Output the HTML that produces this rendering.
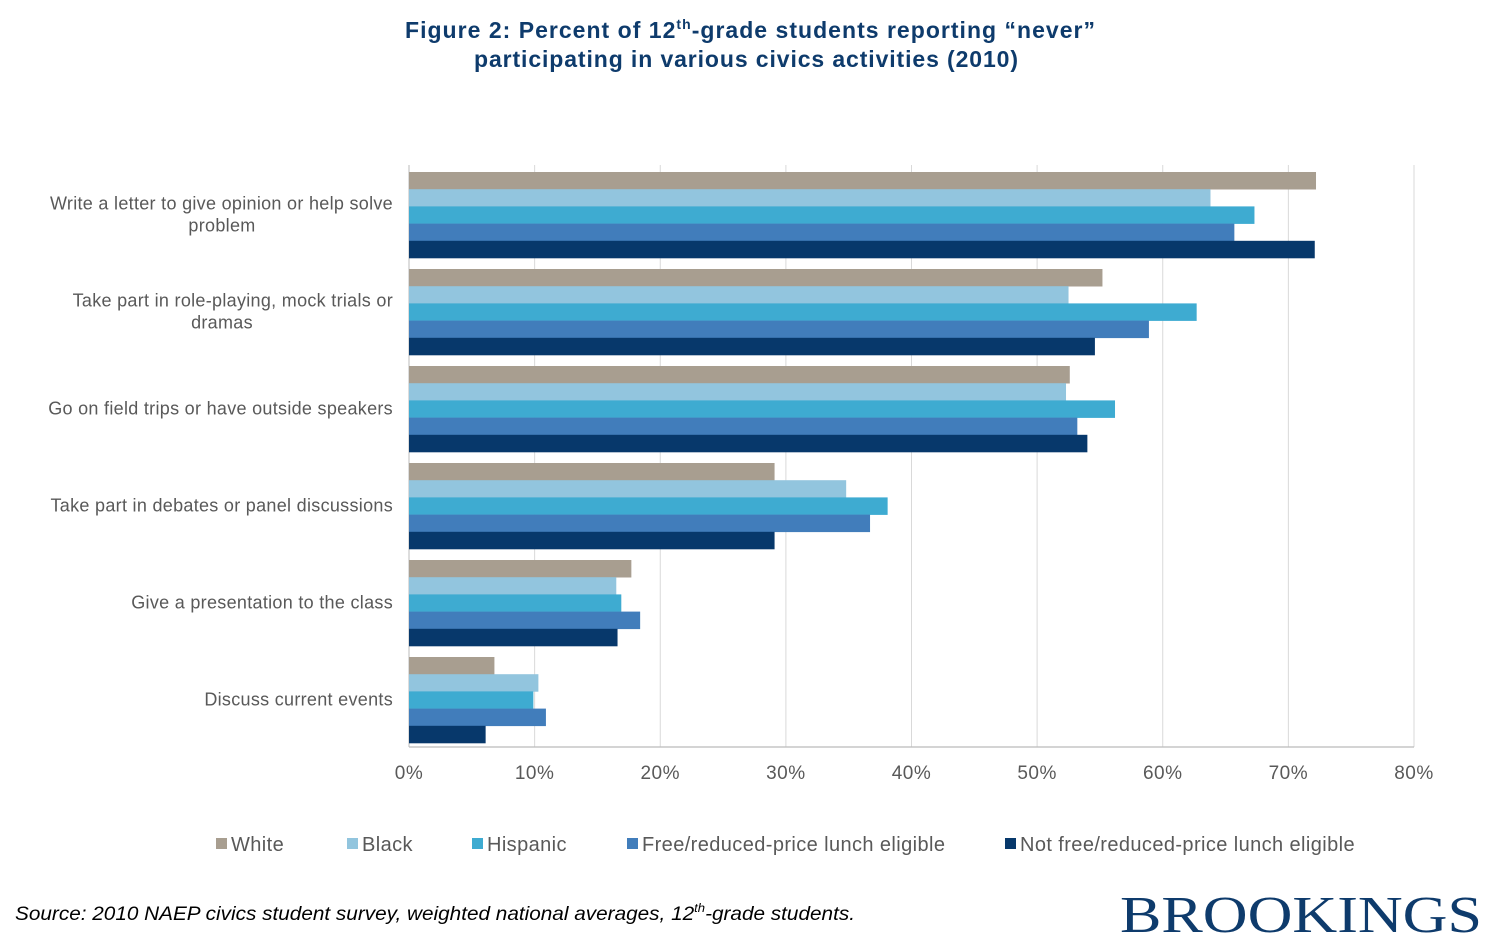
<!DOCTYPE html>
<html><head><meta charset="utf-8"><style>
body{margin:0;background:#fff;width:1500px;height:950px;overflow:hidden}
svg{display:block}
text{font-family:"Liberation Sans",Arial,sans-serif}
</style></head><body>
<svg id="chart" width="1500" height="950">
<text x="405" y="38" font-size="23" font-weight="bold" fill="#0e3b6c" textLength="690" lengthAdjust="spacing">Figure 2: Percent of 12<tspan font-size="14" dy="-9">th</tspan><tspan dy="9">-grade students reporting “never”</tspan></text>
<text x="474" y="67" font-size="23" font-weight="bold" fill="#0e3b6c" textLength="544" lengthAdjust="spacing">participating in various civics activities (2010)</text>
<g id="grid"></g><g id="bars"></g><g id="labels"></g><g id="legend"></g>
<text x="15" y="920" font-size="19" font-style="italic" fill="#000" textLength="840" lengthAdjust="spacingAndGlyphs">Source: 2010 NAEP civics student survey, weighted national averages, 12<tspan font-size="12" dy="-8">th</tspan><tspan dy="8">-grade students.</tspan></text>
<text x="1120" y="932" font-size="52" fill="#0e3b6c" style="font-family:'Liberation Serif',serif" textLength="362" lengthAdjust="spacingAndGlyphs">BROOKINGS</text>
</svg>
<script>
const categories=[["Write a letter to give opinion or help solve","problem"],["Take part in role-playing, mock trials or","dramas"],["Go on field trips or have outside speakers"],["Take part in debates or panel discussions"],["Give a presentation to the class"],["Discuss current events"]];
const seriesNames=["White","Black","Hispanic","Free/reduced-price lunch eligible","Not free/reduced-price lunch eligible"];
const white=[72.2,55.2,52.6,29.1,17.7,6.8];
const black=[63.8,52.5,52.3,34.8,16.5,10.3];
const hispanic=[67.3,62.7,56.2,38.1,16.9,9.9];
const freeLunch=[65.7,58.9,53.2,36.7,18.4,10.9];
const notFree=[72.1,54.6,54.0,29.1,16.6,6.1];
const ticks=[0,10,20,30,40,50,60,70,80];
const colors=["#a89e90","#92c5de","#3eabd1","#417dbb","#07386b"];
const series=[white,black,hispanic,freeLunch,notFree];
const NS="http://www.w3.org/2000/svg";
const x0=409,x1=1414,top0=165,bottom=747;
const xs=v=>x0+(v/80)*(x1-x0);
const groupH=(bottom-top0)/categories.length;
const barH=17.2;
function mk(tag,attrs,parent){const e=document.createElementNS(NS,tag);for(const k in attrs)e.setAttribute(k,attrs[k]);document.getElementById(parent).appendChild(e);return e;}
ticks.forEach(t=>{
 const l=mk("line",{x1:xs(t),x2:xs(t),y1:top0,y2:bottom,stroke:t===0?"#bbb":"#d9d9d9","stroke-width":1},"grid");
 
 
 const tx=mk("text",{x:xs(t),y:779,"text-anchor":"middle","font-size":19,fill:"#595959","letter-spacing":0.5},"grid");
 tx.textContent=t+"%";
 
 
});
const ax=mk("line",{x1:x0,x2:x1,y1:bottom,y2:bottom,stroke:"#bbb","stroke-width":1.2},"grid");


categories.forEach((c,i)=>{
 const gTop=top0+i*groupH+7;
 series.forEach((s,j)=>{
  const r=mk("rect",{x:x0,y:gTop+j*barH,width:xs(s[i])-x0,height:barH+0.3,fill:colors[j]},"bars");
  
  
 });
 const cy=top0+i*groupH+groupH/2;
 c.forEach((line,k)=>{
  const yy=cy+7+(k-(c.length-1)/2)*22;
  const first=k===0||c.length===1;
  const t=mk("text",{x:first?393:222,y:yy,"text-anchor":first?"end":"middle","font-size":18,fill:"#595959","letter-spacing":0.3},"labels");
  t.textContent=line;
  
  
 });
});
const lx=[216,347,472,627,1005];
seriesNames.forEach((n,j)=>{
 const r=mk("rect",{x:lx[j],y:838,width:11,height:11,fill:colors[j]},"legend");
 
 
 const t=mk("text",{x:lx[j]+15,y:851,"font-size":20,fill:"#595959","letter-spacing":0.4},"legend");
 t.textContent=n;
 
 
});
</script>
</body></html>
